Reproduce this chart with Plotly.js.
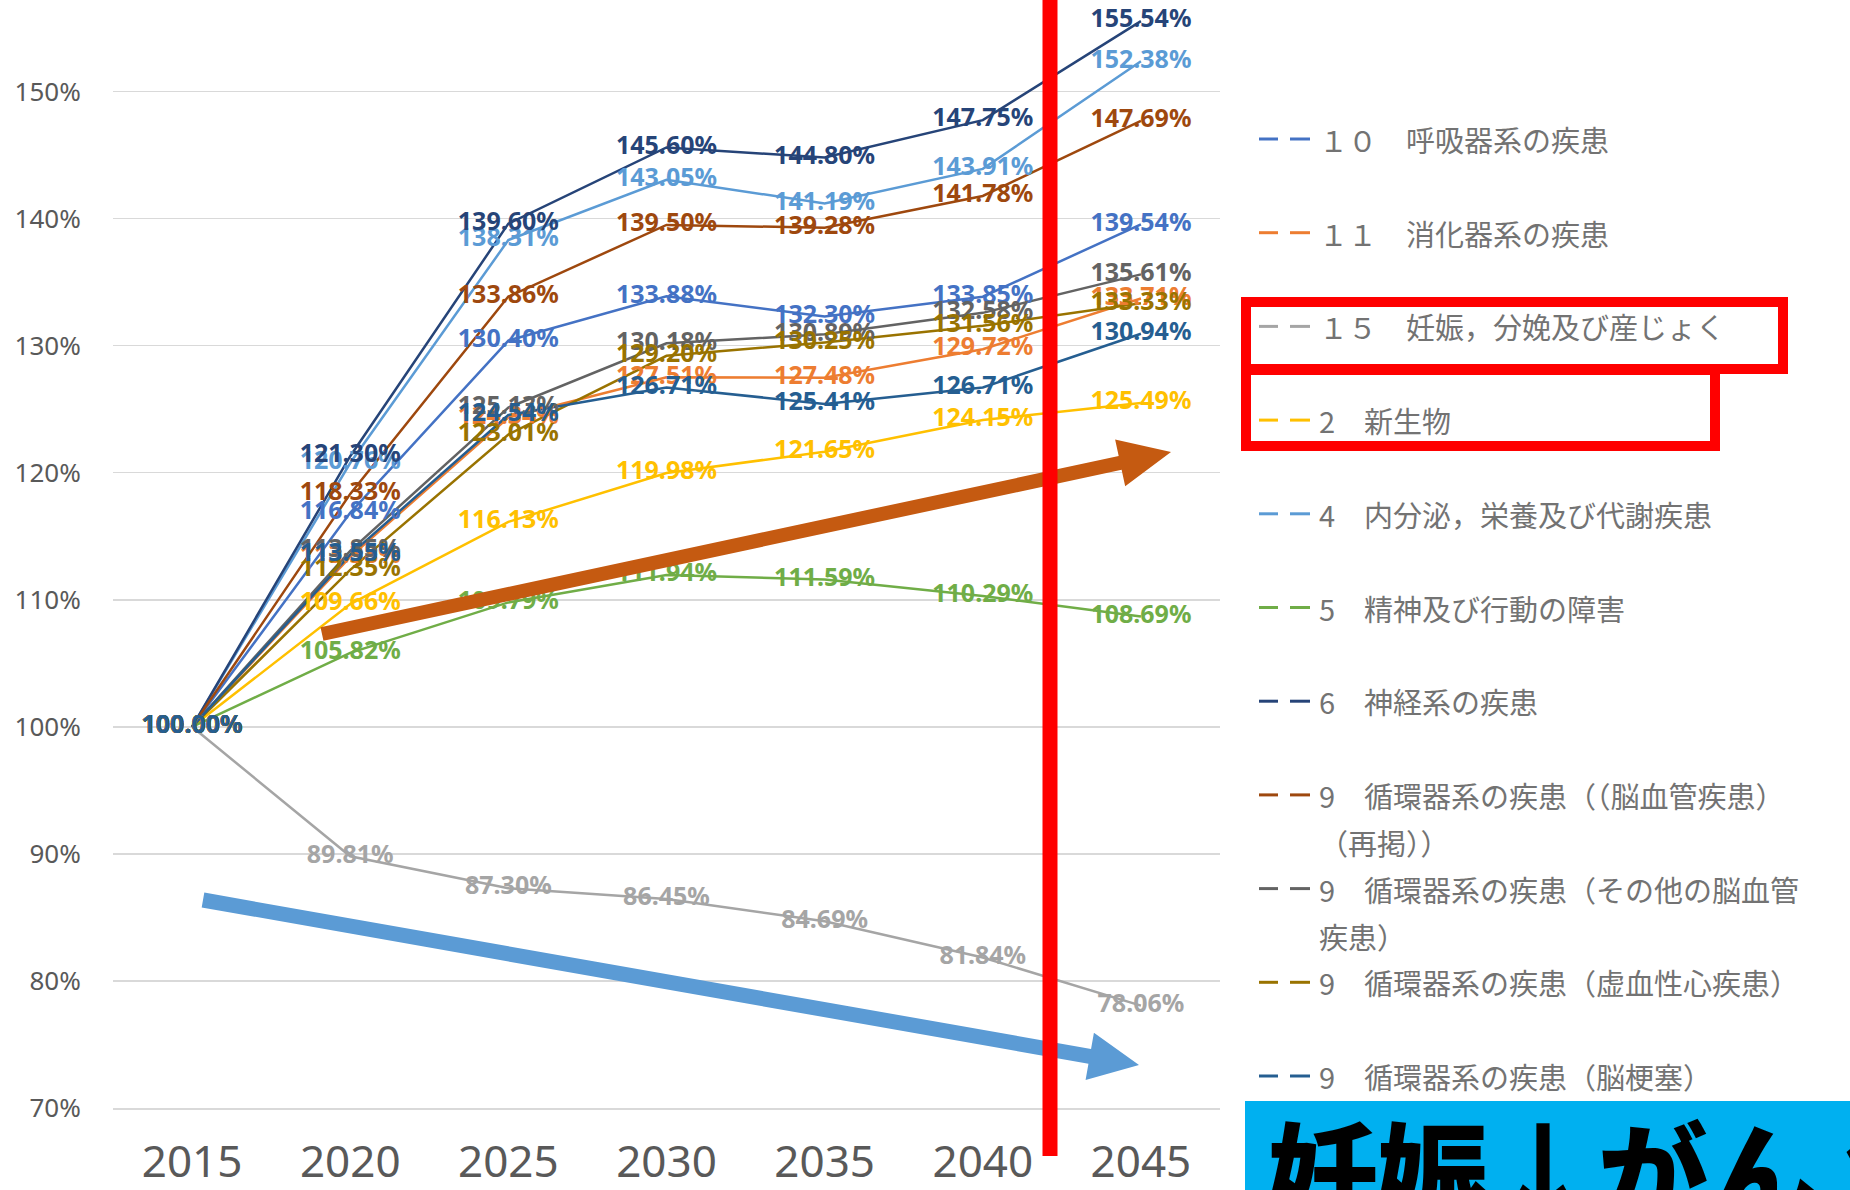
<!DOCTYPE html>
<html><head><meta charset="utf-8">
<script src="https://cdn.plot.ly/plotly-3.0.1.min.js"></script>
<style>html,body{margin:0;padding:0;background:#fff;overflow:hidden}</style>
</head><body><div id="chart" style="width:1850px;height:1190px"></div>
<script>
// ---------- data ----------
const years = ['2015','2020','2025','2030','2035','2040','2045'];

const legendLabels = [
  '１０　呼吸器系の疾患',
  '１１　消化器系の疾患',
  '１５　妊娠，分娩及び産じょく',
  '2　新生物',
  '4　内分泌，栄養及び代謝疾患',
  '5　精神及び行動の障害',
  '6　神経系の疾患',
  '9　循環器系の疾患（（脳血管疾患）|（再掲））',
  '9　循環器系の疾患（その他の脳血管|疾患）',
  '9　循環器系の疾患（虚血性心疾患）',
  '9　循環器系の疾患（脳梗塞）'
];
const seriesColors = ['#4472C4','#ED7D31','#A5A5A5','#FFC000','#5B9BD5','#70AD47',
                      '#264478','#9E480E','#636363','#997300','#255E91'];

const vRespiratory  = [100, 116.84, 130.40, 133.88, 132.30, 133.85, 139.54];
const vDigestive    = [100, 113.38, 124.34, 127.51, 127.48, 129.72, 133.71];
const vPregnancy    = [100,  89.81,  87.30,  86.45,  84.69,  81.84,  78.06];
const vNeoplasm     = [100, 109.66, 116.13, 119.98, 121.65, 124.15, 125.49];
const vEndocrine    = [100, 120.76, 138.31, 143.05, 141.19, 143.91, 152.38];
const vMental       = [100, 105.82, 109.79, 111.94, 111.59, 110.29, 108.69];
const vNervous      = [100, 121.30, 139.60, 145.60, 144.80, 147.75, 155.54];
const vCerebroAll   = [100, 118.33, 133.86, 139.50, 139.28, 141.78, 147.69];
const vCerebroOther = [100, 113.85, 125.13, 130.18, 130.89, 132.58, 135.61];
const vIschemic     = [100, 112.35, 123.01, 129.20, 130.25, 131.56, 133.33];
const vInfarction   = [100, 113.55, 124.54, 126.71, 125.41, 126.71, 130.94];

const seriesValues = [vRespiratory, vDigestive, vPregnancy, vNeoplasm, vEndocrine, vMental,
                      vNervous, vCerebroAll, vCerebroOther, vIschemic, vInfarction];

const yTicks = [70, 80, 90, 100, 110, 120, 130, 140, 150];
const bannerText = '妊娠↓がん↑';

// ---------- layout geometry (pixels) ----------
const W = 1850, H = 1190;
const PL = 113, PR = 1220, PT = 0, PB = 1108;
const px = X => (X - PL) / (PR - PL);
const py = Y => (PB - Y) / (PB - PT);

const traces = [];
seriesValues.forEach((vals, i) => {
  traces.push({
    type: 'scatter', mode: 'lines', x: years, y: vals,
    line: {color: seriesColors[i], width: 2.5},
    name: legendLabels[i].replace('|',''), showlegend: false, hoverinfo: 'skip'
  });
});
seriesValues.forEach((vals, i) => {
  traces.push({
    type: 'scatter', mode: 'text', x: years, y: vals,
    text: vals.map(v => v.toFixed(2) + '%'),
    textposition: 'middle center',
    textfont: {family: 'Noto Sans, sans-serif', size: 25, color: seriesColors[i], weight: 700},
    cliponaxis: false, showlegend: false, hoverinfo: 'skip'
  });
});

function arrowPath(x0, y0, x1, y1, shaftW, headL, headW) {
  const dx = x1 - x0, dy = y1 - y0, L = Math.hypot(dx, dy);
  const ux = dx / L, uy = dy / L, nx = -uy, ny = ux;
  const bx = x1 - ux * headL, by = y1 - uy * headL;
  const pts = [
    [x0 + nx * shaftW / 2, y0 + ny * shaftW / 2],
    [bx + nx * shaftW / 2, by + ny * shaftW / 2],
    [bx + nx * headW / 2, by + ny * headW / 2],
    [x1, y1],
    [bx - nx * headW / 2, by - ny * headW / 2],
    [bx - nx * shaftW / 2, by - ny * shaftW / 2],
    [x0 - nx * shaftW / 2, y0 - ny * shaftW / 2]
  ];
  return 'M' + pts.map(p => px(p[0]).toFixed(5) + ',' + py(p[1]).toFixed(5)).join('L') + 'Z';
}

const shapes = [];
const annotations = [];

// blue banner box
shapes.push({type: 'rect', xref: 'paper', yref: 'paper', x0: px(1245), x1: px(1860), y0: py(1101), y1: py(1200),
  fillcolor: '#00B0F0', line: {width: 0}, layer: 'above'});
// arrows
shapes.push({type: 'path', xref: 'paper', yref: 'paper', path: arrowPath(322, 634, 1171, 452, 14, 52, 48),
  fillcolor: '#C55A11', line: {width: 0}, layer: 'above'});
shapes.push({type: 'path', xref: 'paper', yref: 'paper', path: arrowPath(203, 900, 1139, 1065, 15, 50, 48),
  fillcolor: '#5B9BD5', line: {width: 0}, layer: 'above'});
// red vertical bar
shapes.push({type: 'rect', xref: 'paper', yref: 'paper', x0: px(1042.5), x1: px(1057.5), y0: py(-5), y1: py(1156),
  fillcolor: '#FF0000', line: {width: 0}, layer: 'above'});
// red highlight boxes
shapes.push({type: 'rect', xref: 'paper', yref: 'paper', x0: px(1246), x1: px(1783), y0: py(302), y1: py(369),
  fillcolor: 'rgba(0,0,0,0)', line: {color: '#FF0000', width: 10}, layer: 'above'});
shapes.push({type: 'rect', xref: 'paper', yref: 'paper', x0: px(1246), x1: px(1715), y0: py(370), y1: py(446),
  fillcolor: 'rgba(0,0,0,0)', line: {color: '#FF0000', width: 10}, layer: 'above'});

// custom legend
const legTop = 139, legStep = 93.7;
legendLabels.forEach((lab, i) => {
  const yc = legTop + i * legStep;
  [[1259, 1278], [1290, 1310]].forEach(seg => {
    shapes.push({type: 'line', xref: 'paper', yref: 'paper', x0: px(seg[0]), x1: px(seg[1]), y0: py(yc), y1: py(yc),
      line: {color: seriesColors[i], width: 3}, layer: 'above'});
  });
  lab.split('|').forEach((line, k) => {
    annotations.push({xref: 'paper', yref: 'paper', x: px(1317), y: py(yc + k * 47), xanchor: 'left', yanchor: 'middle',
      text: line, showarrow: false,
      font: {family: 'Noto Sans CJK JP, sans-serif', size: 29, color: '#737373'}});
  });
});

// banner text
annotations.push({xref: 'paper', yref: 'paper', x: px(1266), y: py(1086), xanchor: 'left', yanchor: 'top',
  text: bannerText, showarrow: false,
  font: {family: 'Noto Sans CJK JP, sans-serif', size: 110, color: '#000000', weight: 900}});

const layout = {
  width: W, height: H,
  margin: {l: PL, r: W - PR, t: PT, b: H - PB, pad: 0},
  paper_bgcolor: '#ffffff', plot_bgcolor: '#ffffff',
  showlegend: false,
  xaxis: {
    type: 'category', categoryorder: 'array', categoryarray: years, range: [-0.5, 6.5],
    showgrid: false, zeroline: false, showline: true, linecolor: '#D9D9D9', linewidth: 1.5,
    ticks: 'outside', ticklen: 15, tickcolor: 'rgba(0,0,0,0)',
    tickfont: {family: 'Noto Sans, sans-serif', size: 44, color: '#595959'}, fixedrange: true
  },
  yaxis: {
    range: [70, 70 + (PB - PT) / 12.706], tickmode: 'array', tickvals: yTicks,
    ticktext: yTicks.map(t => t + '%'),
    showgrid: true, gridcolor: '#D9D9D9', gridwidth: 1.5, zeroline: false, showline: false,
    ticks: 'outside', ticklen: 26, tickcolor: 'rgba(0,0,0,0)',
    tickfont: {family: 'Noto Sans, sans-serif', size: 26, color: '#595959'}, fixedrange: true
  },
  shapes: shapes,
  annotations: annotations
};

Plotly.newPlot('chart', traces, layout, {displayModeBar: false, staticPlot: true});
</script>
</body></html>
